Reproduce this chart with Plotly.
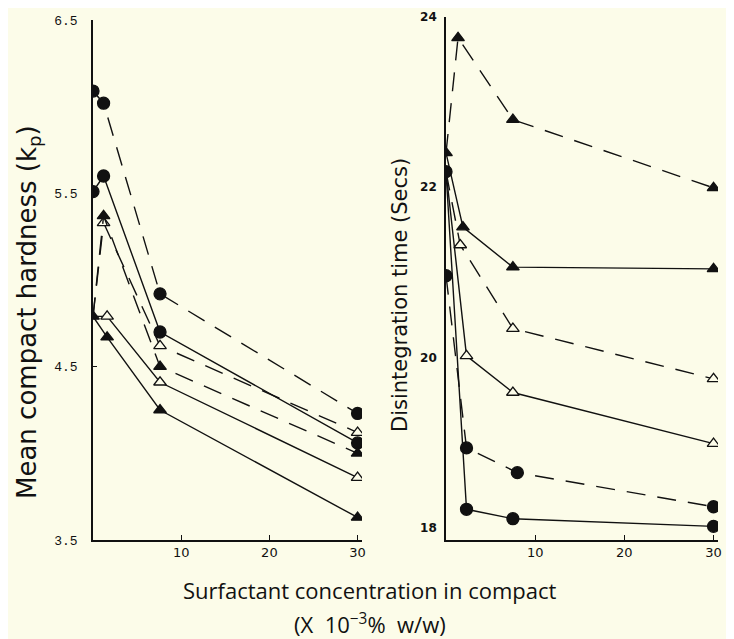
import plotly.graph_objects as go

# ---------------- data ----------------
# Left panel: Mean compact hardness (kp)
L_dash_circle_x = [0, 1.2, 7.6, 30]
L_dash_circle_y = [6.09, 6.02, 4.92, 4.23]
L_solid_circle_x = [0, 1.2, 7.6, 30]
L_solid_circle_y = [5.51, 5.60, 4.70, 4.06]
L_dash_opentri_x = [0, 1.2, 7.6, 30]
L_dash_opentri_y = [4.79, 5.33, 4.62, 4.12]
L_dash_filltri_x = [0, 1.2, 7.6, 30]
L_dash_filltri_y = [4.79, 5.37, 4.50, 4.00]
L_solid_opentri_x = [0, 1.6, 7.6, 30]
L_solid_opentri_y = [4.79, 4.79, 4.41, 3.86]
L_solid_filltri_x = [0, 1.6, 7.6, 30]
L_solid_filltri_y = [4.79, 4.67, 4.25, 3.63]

# Right panel: Disintegration time (Secs)
R_dash_filltri_x = [0, 1.35, 7.5, 30]
R_dash_filltri_y = [22.40, 23.75, 22.79, 21.99]
R_solid_filltri_x = [0, 1.9, 7.5, 30]
R_solid_filltri_y = [22.40, 21.53, 21.06, 21.04]
R_dash_opentri_x = [0, 1.6, 7.5, 30]
R_dash_opentri_y = [22.18, 21.32, 20.34, 19.75]
R_solid_opentri_x = [0, 2.3, 7.5, 30]
R_solid_opentri_y = [22.18, 20.02, 19.59, 18.99]
R_dash_circle_x = [0, 2.3, 8.0, 30]
R_dash_circle_y = [20.96, 18.94, 18.65, 18.25]
R_solid_circle_x = [0, 2.3, 7.5, 30]
R_solid_circle_y = [22.18, 18.22, 18.11, 18.02]

left_yticks = [3.5, 4.5, 5.5, 6.5]
left_yticklabels = ["3.5", "4.5", "5.5", "6.5"]
right_yticks = [18, 20, 22, 24]
x_ticks = [10, 20, 30]

# ---------------- styling ----------------
BG = "#fcfce9"
INK = "#111111"
DASH = "19px,12px"

def series(x, y, sym, dashed, axis, show_first=True):
    size = 12 if "circle" in sym else 11
    sizes = [size] * len(x)
    if not show_first:
        sizes[0] = 0
    filled = "open" not in sym
    return go.Scatter(
        x=x, y=y, mode="lines+markers",
        xaxis=axis[0], yaxis=axis[1],
        line=dict(color=INK, width=1.4, dash=DASH if dashed else "solid"),
        marker=dict(symbol=sym.replace("-open", ""), size=sizes, opacity=1,
                    color=INK if filled else BG,
                    line=dict(color=INK, width=1.3)),
        showlegend=False, hoverinfo="x+y",
    )

fig = go.Figure()
LA = ("x", "y")
RA = ("x2", "y2")
fig.add_trace(series(L_dash_circle_x, L_dash_circle_y, "circle", True, LA))
fig.add_trace(series(L_solid_circle_x, L_solid_circle_y, "circle", False, LA))
fig.add_trace(series(L_dash_opentri_x, L_dash_opentri_y, "triangle-up-open", True, LA, False))
fig.add_trace(series(L_solid_opentri_x, L_solid_opentri_y, "triangle-up-open", False, LA, False))
fig.add_trace(series(L_dash_filltri_x, L_dash_filltri_y, "triangle-up", True, LA, False))
fig.add_trace(series(L_solid_filltri_x, L_solid_filltri_y, "triangle-up", False, LA))
fig.add_trace(series(R_dash_opentri_x, R_dash_opentri_y, "triangle-up-open", True, RA, False))
fig.add_trace(series(R_solid_opentri_x, R_solid_opentri_y, "triangle-up-open", False, RA, False))
fig.add_trace(series(R_dash_circle_x, R_dash_circle_y, "circle", True, RA))
fig.add_trace(series(R_solid_circle_x, R_solid_circle_y, "circle", False, RA))
fig.add_trace(series(R_dash_filltri_x, R_dash_filltri_y, "triangle-up", True, RA))
fig.add_trace(series(R_solid_filltri_x, R_solid_filltri_y, "triangle-up", False, RA, False))

# the page body adds an 8 px offset; size the figure to the visible area
OFF = 8
W, H = 734 - OFF, 639 - OFF
def fx(px): return (px - OFF) / W
def fy(py): return 1 - (py - OFF) / H

axis_common = dict(showgrid=False, zeroline=False, showline=True,
                   linecolor=INK, linewidth=1.6, mirror=False, automargin=False)

fig.update_layout(
    width=W, height=H,
    margin=dict(l=0, r=0, t=0, b=0, pad=0),
    paper_bgcolor=BG, plot_bgcolor=BG,
    font=dict(family="Open Sans", color=INK),
    xaxis=dict(domain=[fx(93), fx(362)], range=[0, 30.5], anchor="y",
               tickvals=x_ticks, ticks="inside", ticklen=5, tickcolor=INK,
               tickfont=dict(family="DejaVu Sans", size=13), **axis_common),
    yaxis=dict(domain=[fy(540), fy(20)], range=[3.5, 6.5], anchor="x",
               tickvals=left_yticks, ticktext=left_yticklabels,
               ticks="inside", ticklen=4, tickcolor=INK, ticklabelstandoff=11,
               tickfont=dict(family="Liberation Mono", size=13), **axis_common),
    xaxis2=dict(domain=[fx(446), fx(718)], range=[0, 30.5], anchor="y2",
                tickvals=x_ticks, ticks="inside", ticklen=5, tickcolor=INK,
                tickfont=dict(family="DejaVu Sans", size=13), **axis_common),
    yaxis2=dict(domain=[fy(540), fy(16.5)], range=[17.86, 24], anchor="x2",
                tickvals=right_yticks, ticks="", ticklabelstandoff=5,
                tickfont=dict(family="DejaVu Sans", size=12, weight="bold"),
                **axis_common),
)

fig.add_annotation(text="Mean compact hardness (k<sub>p</sub>)", textangle=-90,
                   x=fx(28), y=fy(312), xref="paper", yref="paper",
                   xanchor="center", yanchor="middle",
                   showarrow=False, font=dict(size=26, family="DejaVu Sans"))
fig.add_annotation(text="Disintegration time (Secs)", textangle=-90,
                   x=fx(400), y=fy(295), xref="paper", yref="paper",
                   xanchor="center", yanchor="middle",
                   showarrow=False, font=dict(size=21, family="DejaVu Sans"))
fig.add_annotation(text="Surfactant concentration in compact",
                   x=fx(369), y=fy(590), xref="paper", yref="paper",
                   xanchor="center", yanchor="middle",
                   showarrow=False, font=dict(size=22, family="Open Sans"))
fig.add_annotation(text="(X  10<sup>\u22123</sup>%  w/w)",
                   x=fx(370), y=fy(623), xref="paper", yref="paper",
                   xanchor="center", yanchor="middle",
                   showarrow=False, font=dict(size=22, family="Open Sans"))

fig.write_html("out.html")
